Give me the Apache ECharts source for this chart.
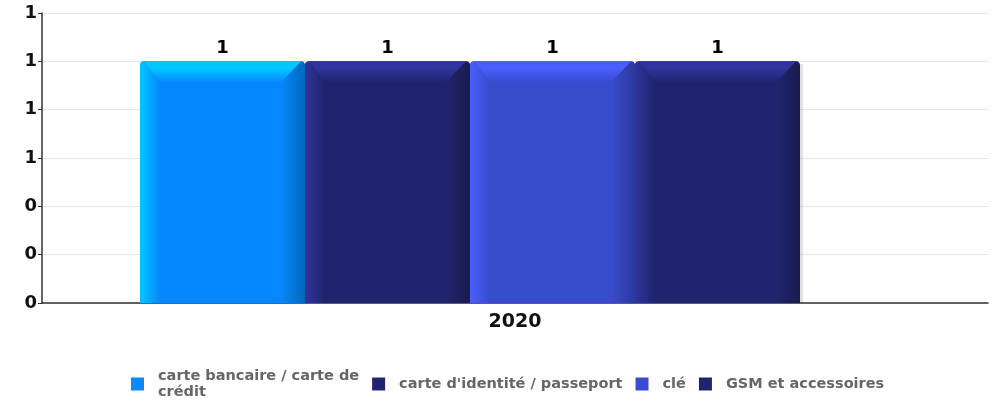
<!DOCTYPE html>
<html>
<head>
<meta charset="utf-8">
<script src="https://cdn.jsdelivr.net/npm/echarts@6/dist/echarts.min.js"></script>
<style>
html,body{margin:0;padding:0;background:#fff;}
#chart{width:994px;height:402px;}
</style>
</head>
<body>
<div id="chart"></div>
<script>
// ---- data ----
const categories = ['2020'];
const seriesNames = ['carte bancaire / carte de crédit', "carte d'identité / passeport", 'clé', 'GSM et accessoires'];
const legendLabels = ['carte bancaire / carte de\ncrédit', "carte d'identité / passeport", 'clé', 'GSM et accessoires'];
const seriesValues = [[1], [1], [1], [1]];
const yTicks = { min: 0, max: 1.2, interval: 0.2 };

// ---- styles ----
const palettes = [
  { main: '#0787ff', light: '#00c8ff', dark: '#0068b8', legend: '#0a8aff' },
  { main: '#20246e', light: '#30349c', dark: '#191b4e', legend: '#1f2370' },
  { main: '#384bcc', light: '#4a5eff', dark: '#2b3a9e', legend: '#3a4bd0' },
  { main: '#20246e', light: '#30349c', dark: '#191b4e', legend: '#1f2370' }
];
const BAR_FRAC = 0.1744;   // bar width as fraction of category band
const OFFSET_FRAC = -0.3964; // left edge of first bar relative to band centre

function makeRender(s) {
  const p = palettes[s];
  return function (params, api) {
    const cat = api.value(0);
    const val = api.value(1);
    const base = api.coord([cat, 0]);
    const topPt = api.coord([cat, val]);
    const band = api.size([1, 0])[0];
    const w = band * BAR_FRAC;
    const left = base[0] + band * OFFSET_FRAC + s * w;
    const right = left + w;
    const top = topPt[1];
    const bottom = base[1];
    const b = 21, bl = 20, br = 24, r = 4;
    const hGradL = { type: 'linear', x: 0, y: 0, x2: 1, y2: 0, colorStops: [{ offset: 0, color: p.light }, { offset: 1, color: p.main }] };
    const hGradR = { type: 'linear', x: 0, y: 0, x2: 1, y2: 0, colorStops: [{ offset: 0, color: p.main }, { offset: 1, color: p.dark }] };
    const vGradT = { type: 'linear', x: 0, y: 0, x2: 0, y2: 1, colorStops: [{ offset: 0, color: p.light }, { offset: 0.35, color: p.light }, { offset: 1, color: p.main }] };
    return {
      type: 'group',
      children: [
        { type: 'rect', shape: { x: right - 1, y: top + 3, width: 4, height: bottom - top - 3 }, style: { fill: 'rgba(0,0,0,0.12)' } },
        { type: 'rect', shape: { x: left, y: top, width: w, height: bottom - top, r: [r, r, 0, 0] }, style: { fill: p.main } },
        { type: 'polygon', shape: { points: [[left, top + r], [left + 1.2, top + 1.2], [left + r, top], [left + bl, top + b], [left + bl, bottom], [left, bottom]] }, style: { fill: hGradL } },
        { type: 'polygon', shape: { points: [[right, top + r], [right - 1.2, top + 1.2], [right - r, top], [right - br, top + b], [right - br, bottom], [right, bottom]] }, style: { fill: hGradR } },
        { type: 'polygon', shape: { points: [[left + r, top], [right - r, top], [right - br, top + b], [left + bl, top + b]] }, style: { fill: vGradT } },
        { type: 'text', style: { text: String(Math.round(val)), x: (left + right) / 2, y: top - 4, textAlign: 'center', textVerticalAlign: 'bottom', font: 'bold 18px "DejaVu Sans"', fill: '#000' } }
      ]
    };
  };
}

const series = seriesNames.map((name, s) => ({
  name: name,
  type: 'custom',
  renderItem: makeRender(s),
  itemStyle: { color: palettes[s].legend },
  encode: { x: 0, y: 1 },
  data: seriesValues[s].map((v, i) => [i, v])
}));

const chart = echarts.init(document.getElementById('chart'), null, { renderer: 'canvas' });
chart.setOption({
  animation: false,
  backgroundColor: '#fff',
  grid: { left: 42, right: 6, top: 13, bottom: 99 },
  xAxis: {
    type: 'category',
    data: categories,
    axisLine: { lineStyle: { color: '#333', width: 1.5 } },
    axisTick: { show: false },
    axisLabel: { color: '#111', fontWeight: 'bold', fontSize: 19, fontFamily: 'DejaVu Sans', margin: 10 }
  },
  yAxis: {
    type: 'value',
    min: yTicks.min, max: yTicks.max, interval: yTicks.interval,
    axisLine: { show: true, lineStyle: { color: '#333', width: 1.5 } },
    axisTick: { show: true, length: 4, lineStyle: { color: '#333' } },
    axisLabel: { color: '#111', fontWeight: 'bold', fontSize: 18, fontFamily: 'DejaVu Sans', margin: 5, formatter: v => String(Math.round(v)) },
    splitLine: { lineStyle: { color: '#e6e6e6' } }
  },
  legend: {
    top: 363,
    left: 126,
    itemGap: 13,
    itemWidth: 31,
    itemHeight: 13,
    icon: 'path://M0,0h13v13h-13z',
    data: seriesNames,
    formatter: name => legendLabels[seriesNames.indexOf(name)],
    textStyle: { color: '#666', fontWeight: 'bold', fontSize: 14.5, fontFamily: 'DejaVu Sans', lineHeight: 16 }
  },
  series: series
});
</script>
</body>
</html>
